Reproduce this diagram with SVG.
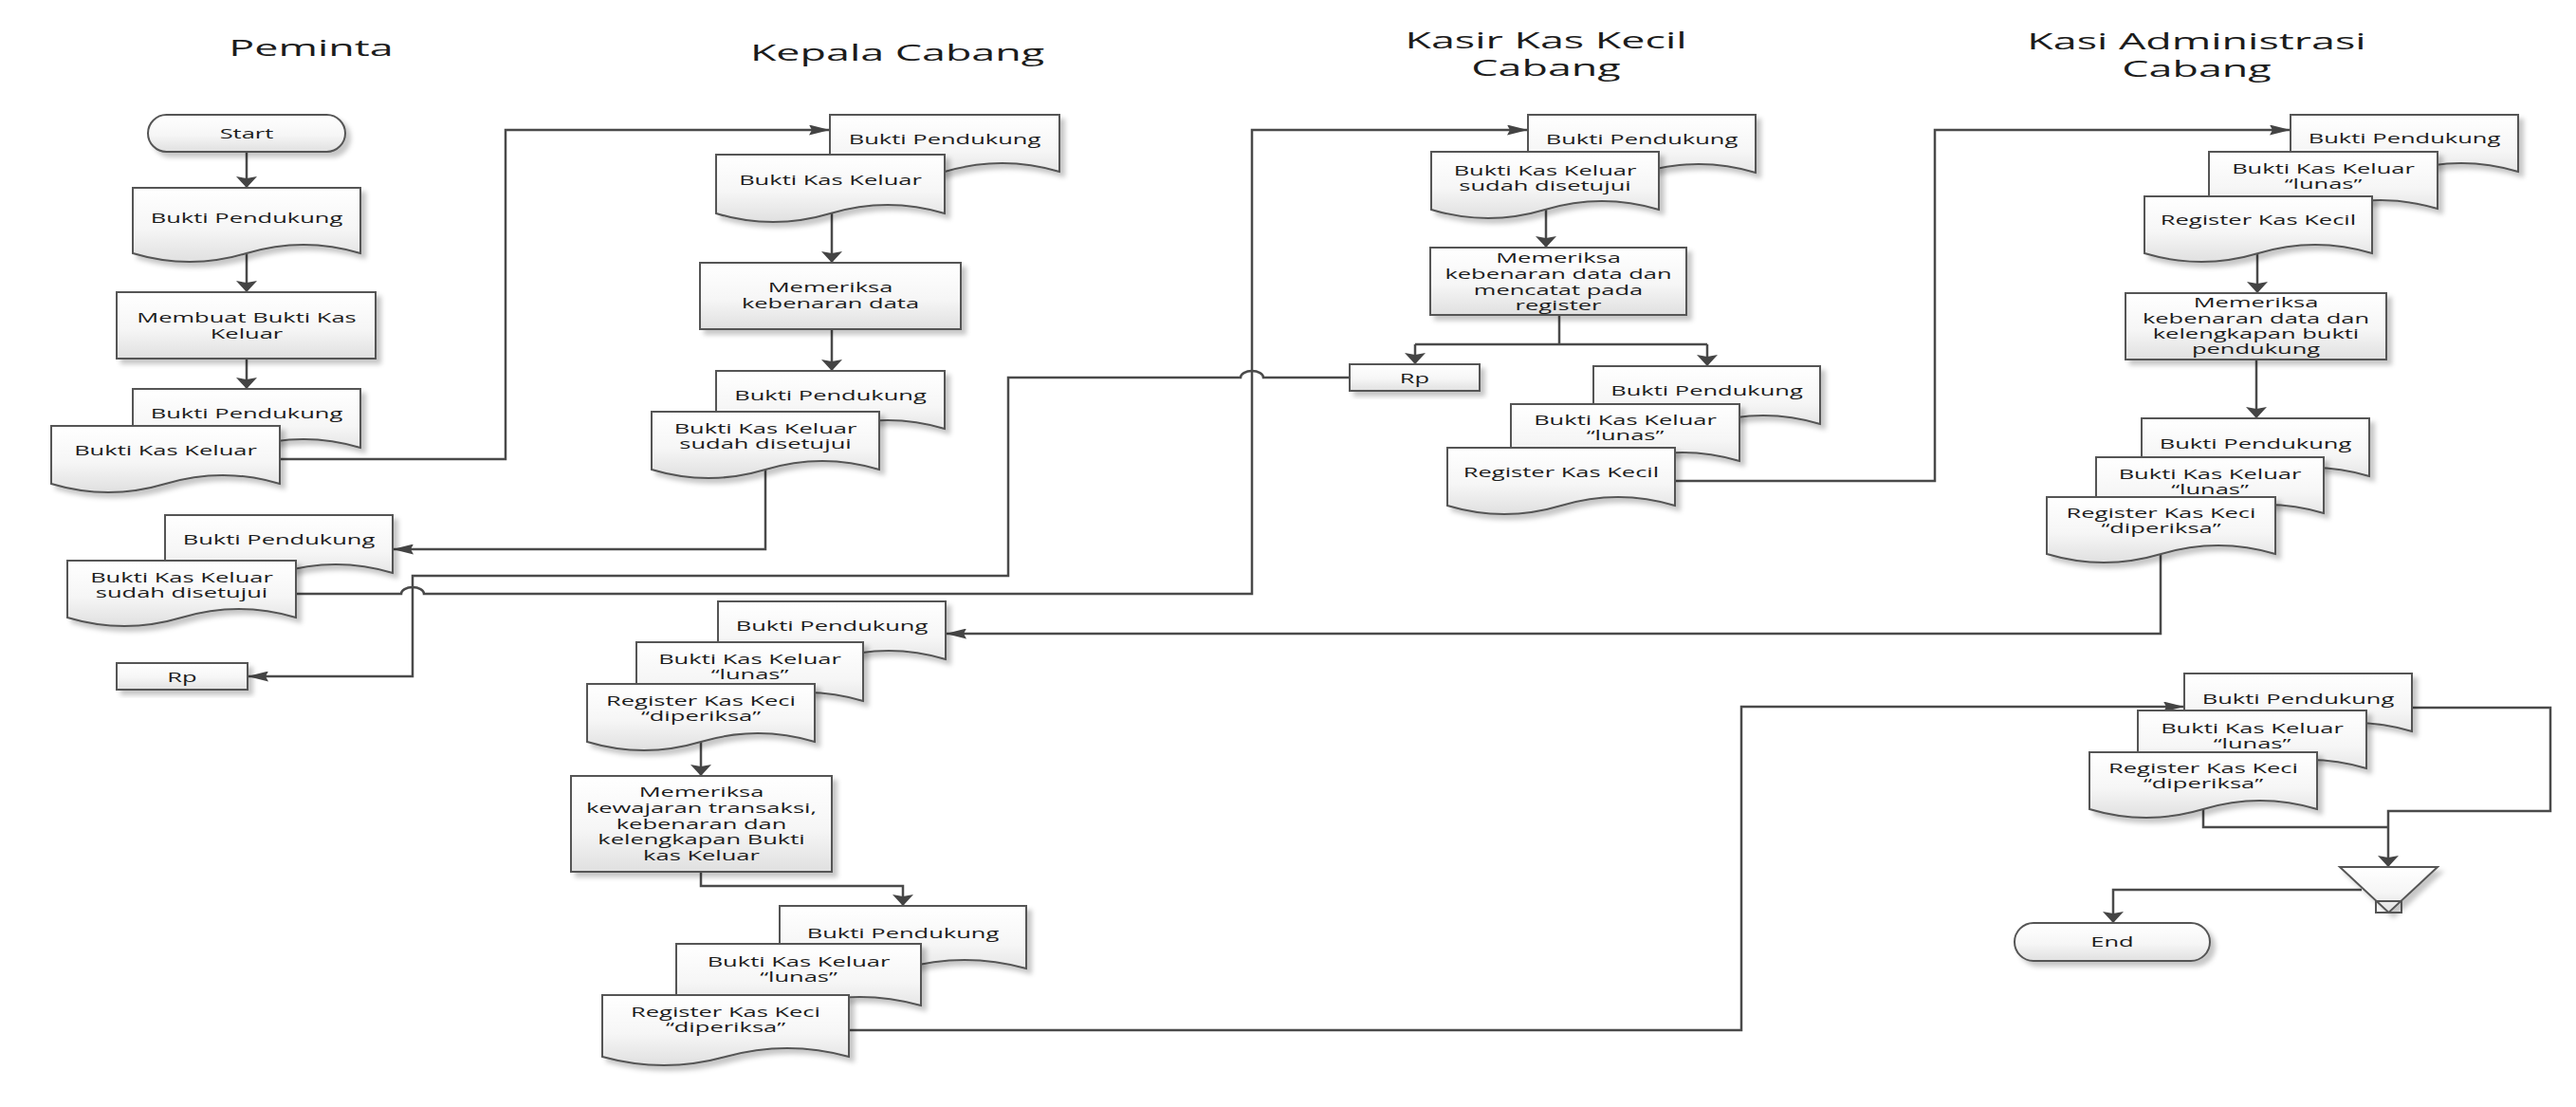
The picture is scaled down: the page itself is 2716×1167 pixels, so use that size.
<svg xmlns="http://www.w3.org/2000/svg" width="2716" height="1167" viewBox="0 0 2716 1167">
<style>
.s{fill:url(#g);stroke:#555;stroke-width:2;filter:url(#sh)}
.c{fill:none;stroke:#4a4a4a;stroke-width:2.5}
.t{font-family:"Open Sans","Liberation Sans",sans-serif;font-size:15px;fill:#1c1c1c;text-anchor:middle}
.h{font-size:23px}
</style>
<defs>
<linearGradient id="g" x1="0" y1="0" x2="0" y2="1">
<stop offset="0" stop-color="#ffffff"/><stop offset="0.55" stop-color="#f6f6f6"/><stop offset="1" stop-color="#e0e0e0"/>
</linearGradient>
<filter id="sh" x="-10%" y="-15%" width="125%" height="145%">
<feDropShadow dx="5" dy="5" stdDeviation="2.5" flood-color="#000" flood-opacity="0.22"/>
</filter>
<marker id="av" viewBox="-12 -11 12 22" refX="0" refY="0" markerWidth="12" markerHeight="22" markerUnits="userSpaceOnUse" orient="auto">
<path d="M0,0 L-12,-11 L-10,0 L-12,11 Z" fill="#444"/>
</marker>
<marker id="ah" viewBox="-22 -5.5 22 11" refX="0" refY="0" markerWidth="22" markerHeight="11" markerUnits="userSpaceOnUse" orient="auto">
<path d="M0,0 L-22,-5.5 L-19,0 L-22,5.5 Z" fill="#444"/>
</marker>
</defs>
<rect width="2716" height="1167" fill="#ffffff"/>

<g id="titles">
<text class="t h" transform="matrix(1.95 0 0 1 328 0)" x="0" y="59">Peminta</text>
<text class="t h" transform="matrix(1.95 0 0 1 946 0)" x="0" y="64">Kepala Cabang</text>
<text class="t h" transform="matrix(1.95 0 0 1 1630 0)"><tspan x="0" y="51">Kasir Kas Kecil</tspan><tspan x="0" y="80">Cabang</tspan></text>
<text class="t h" transform="matrix(1.95 0 0 1 2316 0)"><tspan x="0" y="52">Kasi Administrasi</tspan><tspan x="0" y="81">Cabang</tspan></text>
</g>

<g id="connectors">
<path class="c" d="M260,160 V198" marker-end="url(#av)"/>
<path class="c" d="M260,268 V308" marker-end="url(#av)"/>
<path class="c" d="M260,378 V410" marker-end="url(#av)"/>
<path class="c" d="M295,484 H533 V137 H875" marker-end="url(#ah)"/>
<path class="c" d="M877,225 V277" marker-end="url(#av)"/>
<path class="c" d="M877,347 V391" marker-end="url(#av)"/>
<path class="c" d="M807,495 V579 H414" marker-end="url(#ah)"/>
<path class="c" d="M312,626 H423 A12,7 0 0 1 447,626 H1320 V137 H1611" marker-end="url(#ah)"/>
<path class="c" d="M1423,398 H1332 A12,7 0 0 0 1308,398 H1063 V607 H435 V713 H261" marker-end="url(#ah)"/>
<path class="c" d="M1630,221 V261" marker-end="url(#av)"/>
<path class="c" d="M1644,332 V363 M1492,363 H1800"/>
<path class="c" d="M1492,363 V384" marker-end="url(#av)"/>
<path class="c" d="M1800,363 V386" marker-end="url(#av)"/>
<path class="c" d="M1766,507 H2040 V137 H2415" marker-end="url(#ah)"/>
<path class="c" d="M2380,267 V309" marker-end="url(#av)"/>
<path class="c" d="M2379,379 V441" marker-end="url(#av)"/>
<path class="c" d="M2278,584 V668 H997" marker-end="url(#ah)"/>
<path class="c" d="M739,782 V818" marker-end="url(#av)"/>
<path class="c" d="M739,919 V934 H952 V955" marker-end="url(#av)"/>
<path class="c" d="M895,1086 H1836 V745 H2303" marker-end="url(#ah)"/>
<path class="c" d="M2543,746 H2689 V855 H2518 V914" marker-end="url(#av)"/>
<path class="c" d="M2323,853 V872 H2518"/>
<path class="c" d="M2490,938 H2228 V973" marker-end="url(#av)"/>
</g>

<g id="start">
<rect class="s" x="156" y="121" width="208" height="39" rx="19.5"/>
<text class="t" transform="matrix(1.7 0 0 1 260 0)" x="0" y="146">Start</text>
</g>
<g id="p-doc1">
<path class="s" d="M140,198 H380 V267 Q320,249 260,267 T140,267 Z"/>
<text class="t" transform="matrix(1.7 0 0 1 260 0)" x="0" y="235">Bukti Pendukung</text>
</g>
<g id="p-proc1">
<rect class="s" x="123" y="308" width="273" height="70"/>
<text class="t" transform="matrix(1.7 0 0 1 260 0)"><tspan x="0" y="340">Membuat Bukti Kas</tspan><tspan x="0" y="357">Keluar</tspan></text>
</g>
<g id="p-doc2">
<path class="s" d="M140,410 H380 V472 Q320,454 260,472 T140,472 Z"/>
<text class="t" transform="matrix(1.7 0 0 1 260 0)" x="0" y="441">Bukti Pendukung</text>
</g>
<g id="p-doc3">
<path class="s" d="M54,449 H295 V510 Q234.75,492 174.5,510 T54,510 Z"/>
<text class="t" transform="matrix(1.7 0 0 1 174.5 0)" x="0" y="480">Bukti Kas Keluar</text>
</g>
<g id="p-doc4">
<path class="s" d="M174,543 H414 V604 Q354,586 294,604 T174,604 Z"/>
<text class="t" transform="matrix(1.7 0 0 1 294 0)" x="0" y="574">Bukti Pendukung</text>
</g>
<g id="p-doc5">
<path class="s" d="M71,591 H312 V651 Q251.75,633 191.5,651 T71,651 Z"/>
<text class="t" transform="matrix(1.7 0 0 1 191.5 0)"><tspan x="0" y="614">Bukti Kas Keluar</tspan><tspan x="0" y="630">sudah disetujui</tspan></text>
</g>
<g id="p-rp">
<rect class="s" x="123" y="699" width="138" height="28"/>
<text class="t" transform="matrix(1.7 0 0 1 192 0)" x="0" y="719">Rp</text>
</g>

<g id="k-doc1">
<path class="s" d="M875,121 H1117 V181 Q1056.5,163 996,181 T875,181 Z"/>
<text class="t" transform="matrix(1.7 0 0 1 996 0)" x="0" y="152">Bukti Pendukung</text>
</g>
<g id="k-doc2">
<path class="s" d="M755,163 H996 V225 Q935.75,207 875.5,225 T755,225 Z"/>
<text class="t" transform="matrix(1.7 0 0 1 875.5 0)" x="0" y="195">Bukti Kas Keluar</text>
</g>
<g id="k-proc1">
<rect class="s" x="738" y="277" width="275" height="70"/>
<text class="t" transform="matrix(1.7 0 0 1 875.5 0)"><tspan x="0" y="308">Memeriksa</tspan><tspan x="0" y="325">kebenaran data</tspan></text>
</g>
<g id="k-doc3">
<path class="s" d="M755,391 H996 V452 Q935.75,434 875.5,452 T755,452 Z"/>
<text class="t" transform="matrix(1.7 0 0 1 875.5 0)" x="0" y="422">Bukti Pendukung</text>
</g>
<g id="k-doc4">
<path class="s" d="M687,434 H927 V495 Q867,477 807,495 T687,495 Z"/>
<text class="t" transform="matrix(1.7 0 0 1 807 0)"><tspan x="0" y="457">Bukti Kas Keluar</tspan><tspan x="0" y="473">sudah disetujui</tspan></text>
</g>
<g id="k-doc5">
<path class="s" d="M757,634 H997 V695 Q937,677 877,695 T757,695 Z"/>
<text class="t" transform="matrix(1.7 0 0 1 877 0)" x="0" y="665">Bukti Pendukung</text>
</g>
<g id="k-doc6">
<path class="s" d="M671,677 H910 V739 Q850.25,721 790.5,739 T671,739 Z"/>
<text class="t" transform="matrix(1.7 0 0 1 790.5 0)"><tspan x="0" y="700">Bukti Kas Keluar</tspan><tspan x="0" y="716">“lunas”</tspan></text>
</g>
<g id="k-doc7">
<path class="s" d="M619,721 H859 V782 Q799,764 739,782 T619,782 Z"/>
<text class="t" transform="matrix(1.7 0 0 1 739 0)"><tspan x="0" y="744">Register Kas Keci</tspan><tspan x="0" y="760">“diperiksa”</tspan></text>
</g>
<g id="k-proc2">
<rect class="s" x="602" y="818" width="275" height="101"/>
<text class="t" transform="matrix(1.7 0 0 1 739.5 0)"><tspan x="0" y="840">Memeriksa</tspan><tspan x="0" y="857">kewajaran transaksi,</tspan><tspan x="0" y="874">kebenaran dan</tspan><tspan x="0" y="890">kelengkapan Bukti</tspan><tspan x="0" y="907">kas Keluar</tspan></text>
</g>
<g id="k-doc8">
<path class="s" d="M822,955 H1082 V1021 Q1017,1003 952,1021 T822,1021 Z"/>
<text class="t" transform="matrix(1.7 0 0 1 952 0)" x="0" y="989">Bukti Pendukung</text>
</g>
<g id="k-doc9">
<path class="s" d="M713,995 H971 V1060 Q906.5,1042 842,1060 T713,1060 Z"/>
<text class="t" transform="matrix(1.7 0 0 1 842 0)"><tspan x="0" y="1019">Bukti Kas Keluar</tspan><tspan x="0" y="1035">“lunas”</tspan></text>
</g>
<g id="k-doc10">
<path class="s" d="M635,1049 H895 V1114 Q830,1096 765,1114 T635,1114 Z"/>
<text class="t" transform="matrix(1.7 0 0 1 765 0)"><tspan x="0" y="1072">Register Kas Keci</tspan><tspan x="0" y="1088">“diperiksa”</tspan></text>
</g>

<g id="s-doc1">
<path class="s" d="M1611,121 H1851 V182 Q1791,164 1731,182 T1611,182 Z"/>
<text class="t" transform="matrix(1.7 0 0 1 1731 0)" x="0" y="152">Bukti Pendukung</text>
</g>
<g id="s-doc2">
<path class="s" d="M1509,160 H1749 V221 Q1689,203 1629,221 T1509,221 Z"/>
<text class="t" transform="matrix(1.7 0 0 1 1629 0)"><tspan x="0" y="185">Bukti Kas Keluar</tspan><tspan x="0" y="201">sudah disetujui</tspan></text>
</g>
<g id="s-proc1">
<rect class="s" x="1508" y="261" width="270" height="71"/>
<text class="t" transform="matrix(1.7 0 0 1 1643 0)"><tspan x="0" y="277">Memeriksa</tspan><tspan x="0" y="294">kebenaran data dan</tspan><tspan x="0" y="311">mencatat pada</tspan><tspan x="0" y="327">register</tspan></text>
</g>
<g id="s-rp">
<rect class="s" x="1423" y="384" width="137" height="28"/>
<text class="t" transform="matrix(1.7 0 0 1 1491.5 0)" x="0" y="404">Rp</text>
</g>
<g id="s-doc3">
<path class="s" d="M1680,386 H1919 V447 Q1859.25,429 1799.5,447 T1680,447 Z"/>
<text class="t" transform="matrix(1.7 0 0 1 1799.5 0)" x="0" y="417">Bukti Pendukung</text>
</g>
<g id="s-doc4">
<path class="s" d="M1593,426 H1834 V486 Q1773.75,468 1713.5,486 T1593,486 Z"/>
<text class="t" transform="matrix(1.7 0 0 1 1713.5 0)"><tspan x="0" y="448">Bukti Kas Keluar</tspan><tspan x="0" y="464">“lunas”</tspan></text>
</g>
<g id="s-doc5">
<path class="s" d="M1526,472 H1766 V533 Q1706,515 1646,533 T1526,533 Z"/>
<text class="t" transform="matrix(1.7 0 0 1 1646 0)" x="0" y="503">Register Kas Kecil</text>
</g>

<g id="a-doc1">
<path class="s" d="M2415,121 H2655 V181 Q2595,163 2535,181 T2415,181 Z"/>
<text class="t" transform="matrix(1.7 0 0 1 2535 0)" x="0" y="151">Bukti Pendukung</text>
</g>
<g id="a-doc2">
<path class="s" d="M2329,160 H2570 V220 Q2509.75,202 2449.5,220 T2329,220 Z"/>
<text class="t" transform="matrix(1.7 0 0 1 2449.5 0)"><tspan x="0" y="183">Bukti Kas Keluar</tspan><tspan x="0" y="199">“lunas”</tspan></text>
</g>
<g id="a-doc3">
<path class="s" d="M2261,207 H2501 V267 Q2441,249 2381,267 T2261,267 Z"/>
<text class="t" transform="matrix(1.7 0 0 1 2381 0)" x="0" y="237">Register Kas Kecil</text>
</g>
<g id="a-proc1">
<rect class="s" x="2241" y="309" width="275" height="70"/>
<text class="t" transform="matrix(1.7 0 0 1 2378.5 0)"><tspan x="0" y="324">Memeriksa</tspan><tspan x="0" y="341">kebenaran data dan</tspan><tspan x="0" y="357">kelengkapan bukti</tspan><tspan x="0" y="373">pendukung</tspan></text>
</g>
<g id="a-doc4">
<path class="s" d="M2258,441 H2498 V502 Q2438,484 2378,502 T2258,502 Z"/>
<text class="t" transform="matrix(1.7 0 0 1 2378 0)" x="0" y="473">Bukti Pendukung</text>
</g>
<g id="a-doc5">
<path class="s" d="M2210,482 H2450 V541 Q2390,523 2330,541 T2210,541 Z"/>
<text class="t" transform="matrix(1.7 0 0 1 2330 0)"><tspan x="0" y="505">Bukti Kas Keluar</tspan><tspan x="0" y="521">“lunas”</tspan></text>
</g>
<g id="a-doc6">
<path class="s" d="M2158,524 H2399 V584 Q2338.75,566 2278.5,584 T2158,584 Z"/>
<text class="t" transform="matrix(1.7 0 0 1 2278.5 0)"><tspan x="0" y="546">Register Kas Keci</tspan><tspan x="0" y="562">“diperiksa”</tspan></text>
</g>
<g id="a-doc7">
<path class="s" d="M2303,710 H2543 V771 Q2483,753 2423,771 T2303,771 Z"/>
<text class="t" transform="matrix(1.7 0 0 1 2423 0)" x="0" y="742">Bukti Pendukung</text>
</g>
<g id="a-doc8">
<path class="s" d="M2254,749 H2495 V810 Q2434.75,792 2374.5,810 T2254,810 Z"/>
<text class="t" transform="matrix(1.7 0 0 1 2374.5 0)"><tspan x="0" y="773">Bukti Kas Keluar</tspan><tspan x="0" y="789">“lunas”</tspan></text>
</g>
<g id="a-doc9">
<path class="s" d="M2203,793 H2443 V853 Q2383,835 2323,853 T2203,853 Z"/>
<text class="t" transform="matrix(1.7 0 0 1 2323 0)"><tspan x="0" y="815">Register Kas Keci</tspan><tspan x="0" y="831">“diperiksa”</tspan></text>
</g>
<g id="a-file">
<path class="s" d="M2467,914 H2570 L2518.5,962 Z"/>
<rect x="2505" y="950" width="27" height="12" fill="none" stroke="#555" stroke-width="2"/>
</g>
<g id="end">
<rect class="s" x="2124" y="973" width="206" height="40" rx="20"/>
<text class="t" transform="matrix(1.7 0 0 1 2227 0)" x="0" y="998">End</text>
</g>
</svg>
